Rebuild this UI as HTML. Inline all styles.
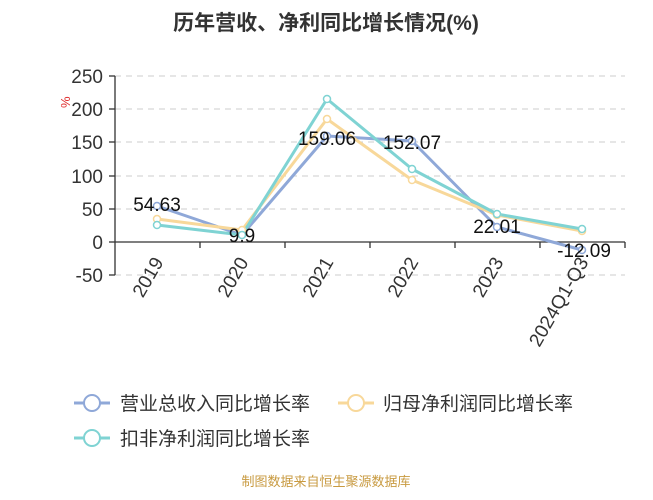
<!DOCTYPE html>
<html><head><meta charset="utf-8"><style>
body{margin:0;background:#fff;width:653px;height:495px;overflow:hidden}
text{font-family:"Liberation Sans","Noto Sans CJK SC",sans-serif}
</style></head><body>
<svg width="653" height="495" viewBox="0 0 653 495" xmlns="http://www.w3.org/2000/svg">
<text x="326" y="30" text-anchor="middle" font-size="21" font-weight="bold" fill="#333">历年营收、净利同比增长情况(%)</text>
<g stroke="#ccc" stroke-dasharray="6,5" stroke-width="1">
<line x1="115" y1="76" x2="625" y2="76"/><line x1="115" y1="109" x2="625" y2="109"/>
<line x1="115" y1="142" x2="625" y2="142"/><line x1="115" y1="176" x2="625" y2="176"/>
<line x1="115" y1="209" x2="625" y2="209"/><line x1="115" y1="275" x2="625" y2="275"/>
</g>
<g stroke="#333" stroke-width="1.3">
<line x1="115" y1="76" x2="115" y2="275"/>
<line x1="115" y1="242" x2="625" y2="242"/>
<line x1="109" y1="76" x2="115" y2="76"/><line x1="109" y1="109" x2="115" y2="109"/>
<line x1="109" y1="142" x2="115" y2="142"/><line x1="109" y1="176" x2="115" y2="176"/>
<line x1="109" y1="209" x2="115" y2="209"/><line x1="109" y1="242" x2="115" y2="242"/>
<line x1="109" y1="275" x2="115" y2="275"/>
<line x1="200" y1="242" x2="200" y2="248"/><line x1="285" y1="242" x2="285" y2="248"/>
<line x1="370" y1="242" x2="370" y2="248"/><line x1="455" y1="242" x2="455" y2="248"/>
<line x1="540" y1="242" x2="540" y2="248"/><line x1="625" y1="242" x2="625" y2="248"/>
</g>
<g font-size="19" fill="#333" text-anchor="end">
<text x="103" y="83">250</text><text x="103" y="116">200</text><text x="103" y="149">150</text>
<text x="103" y="183">100</text><text x="103" y="216">50</text><text x="103" y="249">0</text>
<text x="103" y="282">-50</text>
</g>
<text x="66" y="112" font-size="13" fill="#e03030" transform="rotate(-90 66 108)">%</text>
<g font-size="19" fill="#333" text-anchor="end">
<text transform="translate(164,262) rotate(-60)">2019</text>
<text transform="translate(249,262) rotate(-60)">2020</text>
<text transform="translate(334,262) rotate(-60)">2021</text>
<text transform="translate(419,262) rotate(-60)">2022</text>
<text transform="translate(504,262) rotate(-60)">2023</text>
<text transform="translate(589,262) rotate(-60)">2024Q1-Q3</text>
</g>
<g fill="none" stroke-width="3" stroke-linejoin="round">
<polyline stroke="#8fa8d8" points="157,206 242,235 327,136 412,141 497,227 582,250"/>
<polyline stroke="#f8d89a" points="157,219 242,230 327,119 412,180 497,215 582,231"/>
<polyline stroke="#7fd3d3" points="157,225 242,235 327,99 412,169 497,214 582,229"/>
</g>
<g fill="#fff" stroke-width="1.5">
<g stroke="#8fa8d8"><circle cx="157" cy="206" r="3.5"/><circle cx="242" cy="235" r="3.5"/><circle cx="327" cy="136" r="3.5"/><circle cx="412" cy="141" r="3.5"/><circle cx="497" cy="227" r="3.5"/><circle cx="582" cy="250" r="3.5"/></g>
<g stroke="#f8d89a"><circle cx="157" cy="219" r="3.5"/><circle cx="242" cy="230" r="3.5"/><circle cx="327" cy="119" r="3.5"/><circle cx="412" cy="180" r="3.5"/><circle cx="497" cy="215" r="3.5"/><circle cx="582" cy="231" r="3.5"/></g>
<g stroke="#7fd3d3"><circle cx="157" cy="225" r="3.5"/><circle cx="242" cy="235" r="3.5"/><circle cx="327" cy="99" r="3.5"/><circle cx="412" cy="169" r="3.5"/><circle cx="497" cy="214" r="3.5"/><circle cx="582" cy="229" r="3.5"/></g>
</g>
<g font-size="19" fill="#111" text-anchor="middle">
<text x="157" y="211">54.63</text><text x="242" y="242">9.9</text>
<text x="327" y="145">159.06</text><text x="412" y="149">152.07</text>
<text x="497" y="233">22.01</text><text x="584" y="257">-12.09</text>
</g>
<g stroke-width="3" fill="#fff">
<line x1="74" y1="403" x2="110" y2="403" stroke="#8fa8d8"/><circle cx="92" cy="403" r="8" stroke="#8fa8d8" stroke-width="2"/>
<line x1="338" y1="403" x2="374" y2="403" stroke="#f8d89a"/><circle cx="356" cy="403" r="8" stroke="#f8d89a" stroke-width="2"/>
<line x1="74" y1="438" x2="110" y2="438" stroke="#7fd3d3"/><circle cx="92" cy="438" r="8" stroke="#7fd3d3" stroke-width="2"/>
</g>
<g font-size="19" fill="#333">
<text x="120" y="410">营业总收入同比增长率</text>
<text x="383" y="410">归母净利润同比增长率</text>
<text x="120" y="445">扣非净利润同比增长率</text>
</g>
<text x="326" y="486" text-anchor="middle" font-size="13" fill="#c89a40">制图数据来自恒生聚源数据库</text>
</svg>
</body></html>
